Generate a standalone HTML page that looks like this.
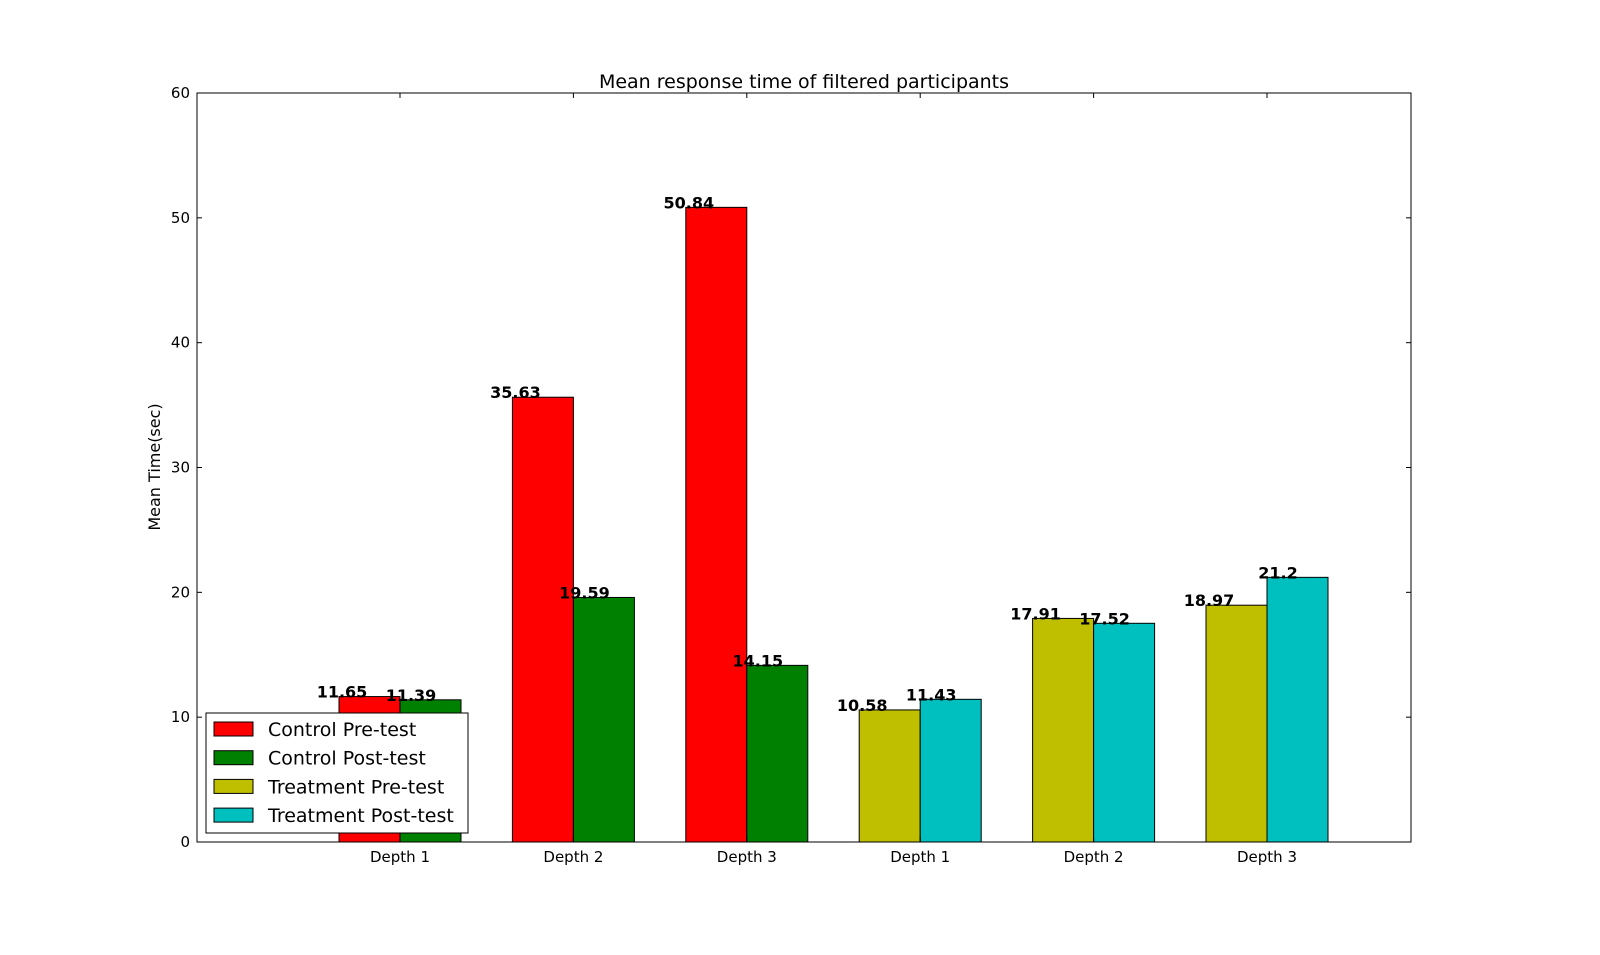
<!DOCTYPE html>
<html><head><meta charset="utf-8"><style>
html,body{margin:0;padding:0;background:#fff;}
svg{display:block;font-family:"DejaVu Sans","Liberation Sans",sans-serif;}
</style></head><body>
<svg id="chart" width="1600" height="955" viewBox="0 0 1600 955">
<rect x="0" y="0" width="1600" height="955" fill="#fff"/>
<text x="804" y="88" text-anchor="middle" font-size="19">Mean response time of filtered participants</text>
<text transform="translate(160,467) rotate(-90)" text-anchor="middle" font-size="16">Mean Time(sec)</text>
<g id="bars"></g>
<g id="axes"></g>
<g id="legend"></g>
</svg>
<script>
const categories = ["Depth 1","Depth 2","Depth 3","Depth 1","Depth 2","Depth 3"];
const preValues = [11.65, 35.63, 50.84, 10.58, 17.91, 18.97];
const postValues = [11.39, 19.59, 14.15, 11.43, 17.52, 21.2];
const preColors = ["#ff0000","#ff0000","#ff0000","#bfbf00","#bfbf00","#bfbf00"];
const postColors = ["#008000","#008000","#008000","#00bfbf","#00bfbf","#00bfbf"];
const yTicks = [0,10,20,30,40,50,60];
const legendLabels = ["Control Pre-test","Control Post-test","Treatment Pre-test","Treatment Post-test"];
const legendColors = ["#ff0000","#008000","#bfbf00","#00bfbf"];

const NS="http://www.w3.org/2000/svg";
const L=197,R=1411,T=93,B=842,YMAX=60;
const yS=v=>B-(v/YMAX)*(B-T);
const xC=i=>400+i*173.4;
const BW=61;
function mk(tag,attrs,parent){const e=document.createElementNS(NS,tag);for(const k in attrs)e.setAttribute(k,attrs[k]);parent.appendChild(e);return e;}
const bars=document.getElementById('bars'),axes=document.getElementById('axes'),leg=document.getElementById('legend');

categories.forEach((c,i)=>{
  const x0=xC(i)-BW;
  const r1=mk('rect',{x:x0,y:yS(preValues[i]),width:BW,height:B-yS(preValues[i]),fill:preColors[i],stroke:'#000','stroke-width':1},bars);
  
  
  const r2=mk('rect',{x:xC(i),y:yS(postValues[i]),width:BW,height:B-yS(postValues[i]),fill:postColors[i],stroke:'#000','stroke-width':1},bars);
  
  
  const t1=mk('text',{x:x0+3,y:yS(preValues[i])+1,'text-anchor':'middle','font-size':16,'font-weight':'bold'},bars);
  t1.textContent=String(preValues[i]);
  
  
  const t2=mk('text',{x:xC(i)+11,y:yS(postValues[i])+1,'text-anchor':'middle','font-size':16,'font-weight':'bold'},bars);
  t2.textContent=String(postValues[i]);
  
  
  mk('line',{x1:xC(i),x2:xC(i),y1:B,y2:B-5,stroke:'#000'},axes);
  mk('line',{x1:xC(i),x2:xC(i),y1:T,y2:T+5,stroke:'#000'},axes);
  const tl=mk('text',{x:xC(i),y:B+20,'text-anchor':'middle','font-size':15},axes);
  tl.textContent=c;
  
  
});
yTicks.forEach(v=>{
  const y=yS(v);
  mk('line',{x1:L,x2:L+5,y1:y,y2:y,stroke:'#000'},axes);
  mk('line',{x1:R,x2:R-5,y1:y,y2:y,stroke:'#000'},axes);
  const t=mk('text',{x:190,y:y+5,'text-anchor':'end','font-size':15},axes);
  t.textContent=String(v);
  
  
});
const frame=mk('rect',{x:L,y:T,width:R-L,height:B-T,fill:'none',stroke:'#000','stroke-width':1},axes);



mk('rect',{x:206,y:713,width:262,height:120,fill:'#fff',stroke:'#000'},leg);
legendLabels.forEach((lab,i)=>{
  const y=729+i*28.7;
  const s=mk('rect',{x:214,y:y-7,width:39,height:14,fill:legendColors[i],stroke:'#000'},leg);
  
  
  const t=mk('text',{x:268,y:y+7,'font-size':19},leg);
  t.textContent=lab;
  
  
});
</script>
</body></html>
